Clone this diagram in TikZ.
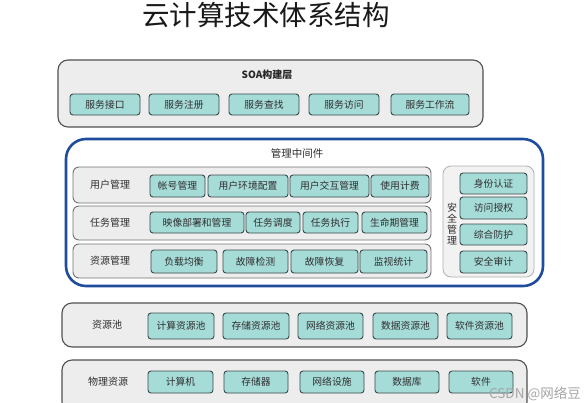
\documentclass[tikz,border=0pt]{standalone}
\usepackage{fontspec}
\setmainfont{Noto Sans CJK SC}
\newfontfamily\titlefont{Noto Sans CJK SC}
\definecolor{boxfill}{HTML}{EDEDED}
\definecolor{boxline}{HTML}{505050}
\definecolor{tealfill}{HTML}{A6DCD8}
\definecolor{tealline}{HTML}{3A4A4A}
\definecolor{bluel}{HTML}{1F4C9C}
\definecolor{txt}{HTML}{2E2E2E}
\tikzset{
  outerbox/.style={draw=boxline, fill=boxfill, line width=1.1pt, rounded corners=10pt},
  rowbox/.style={draw=boxline!80, fill=boxfill, line width=0.9pt, rounded corners=6pt},
  secbox/.style={draw=boxline!45, fill=boxfill!70, line width=0.8pt, rounded corners=8pt},
  inbox/.style={draw=tealline, fill=tealfill, line width=0.9pt, rounded corners=3pt, text=txt, font=\fontsize{9.8}{11}\selectfont},
  midbox/.style={draw=bluel, fill=white, line width=2.6pt, rounded corners=20pt},
  lbl/.style={text=txt, font=\fontsize{10}{11}\selectfont},
}
\newcommand\bxn[7]{\node[#1, minimum width={(#5-#3)*1pt}, minimum height={(#6-#4)*1pt}, inner sep=0pt] (#2) at ({(#3+#5)/2},{(#4+#6)/2}) {#7};}
\begin{document}
\begin{tikzpicture}[x=1pt,y=-1pt]
\useasboundingbox (0,0) rectangle (588,402);
\clip (0,0) rectangle (588,402);
\fill[white] (0,0) rectangle (588,402);
% title
\node[font=\titlefont\fontsize{27.5}{30}\selectfont, text=black!90, inner sep=0] (title) at (266,15) {云计算技术体系结构};
% SOA layer
\bxn{outerbox}{soa}{58}{60}{483}{127}{}
\node[font=\bfseries\fontsize{10}{11}\selectfont, text=black!85] (soal) at (267,75) {SOA构建层};
\bxn{inbox}{s1}{70}{94}{140}{115}{服务接口}
\bxn{inbox}{s2}{149}{94}{219}{115}{服务注册}
\bxn{inbox}{s3}{229}{94}{299}{115}{服务查找}
\bxn{inbox}{s4}{309}{94}{379}{115}{服务访问}
\bxn{inbox}{s5}{391}{94}{469}{115}{服务工作流}
% management middleware
\bxn{midbox}{mid}{66}{139}{543}{286}{}
\node[lbl, font=\fontsize{10.5}{12}\selectfont] (midl) at (297,153) {管理中间件};
\bxn{rowbox}{r1}{73}{167}{431}{203}{}
\bxn{rowbox}{r2}{73}{206}{431}{240}{}
\bxn{rowbox}{r3}{73}{244}{431}{278}{}
\node[lbl] (r1l) at (110,185) {用户管理};
\node[lbl] (r2l) at (110,223) {任务管理};
\node[lbl] (r3l) at (110,261) {资源管理};
\bxn{inbox}{a1}{150}{175}{205}{197}{帐号管理}
\bxn{inbox}{a2}{208}{175}{288}{197}{用户环境配置}
\bxn{inbox}{a3}{290}{175}{369}{197}{用户交互管理}
\bxn{inbox}{a4}{371}{175}{429}{197}{使用计费}
\bxn{inbox}{b1}{150}{212}{244}{233}{映像部署和管理}
\bxn{inbox}{b2}{246}{212}{300}{233}{任务调度}
\bxn{inbox}{b3}{303}{212}{358}{233}{任务执行}
\bxn{inbox}{b4}{362}{212}{427}{233}{生命期管理}
\bxn{inbox}{c1}{151}{250}{217}{273}{负载均衡}
\bxn{inbox}{c2}{223}{250}{288}{273}{故障检测}
\bxn{inbox}{c3}{291}{250}{358}{273}{故障恢复}
\bxn{inbox}{c4}{360}{250}{427}{273}{监视统计}
% security
\bxn{secbox}{sec}{443}{166}{534}{277}{}
\node[lbl, align=center, font=\fontsize{10}{11.2}\selectfont] (secl) at (452,224) {安\\全\\管\\理};
\bxn{inbox}{d1}{460}{173}{527}{194}{身份认证}
\bxn{inbox}{d2}{460}{197}{527}{219}{访问授权}
\bxn{inbox}{d3}{460}{224}{527}{245}{综合防护}
\bxn{inbox}{d4}{460}{251}{527}{273}{安全审计}
% resource pool
\bxn{outerbox}{pool}{62}{303}{527}{347}{}
\node[lbl] (pooll) at (107,325) {资源池};
\bxn{inbox}{p1}{148}{313}{214}{339}{计算资源池}
\bxn{inbox}{p2}{223}{313}{289}{339}{存储资源池}
\bxn{inbox}{p3}{298}{313}{363}{339}{网络资源池}
\bxn{inbox}{p4}{373}{313}{438}{339}{数据资源池}
\bxn{inbox}{p5}{447}{313}{512}{339}{软件资源池}
% physical resources
\bxn{outerbox}{phys}{62}{360}{527}{412}{}
\node[lbl] (physl) at (108,382) {物理资源};
\bxn{inbox}{q1}{148}{371}{213}{393}{计算机}
\bxn{inbox}{q2}{224}{371}{288}{393}{存储器}
\bxn{inbox}{q3}{300}{371}{364}{393}{网络设施}
\bxn{inbox}{q4}{375}{371}{439}{393}{数据库}
\bxn{inbox}{q5}{449}{371}{513}{393}{软件}
% watermark
\node[text=black!35, font=\fontsize{13.5}{14}\selectfont, inner sep=0, anchor=east] (wm) at (581,394) {CSDN @网络豆};
\end{tikzpicture}
\end{document}
